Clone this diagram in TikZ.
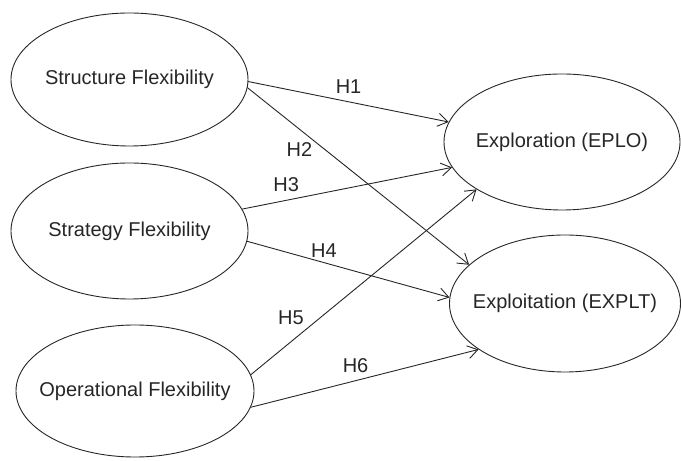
\documentclass[tikz,border=0pt]{standalone}
\usepackage{fontspec}
\setmainfont{Liberation Sans}
\usetikzlibrary{shapes.geometric,arrows.meta}
\definecolor{ink}{gray}{0.15}
\begin{document}
\begin{tikzpicture}[x=1bp,y=1bp,>={Straight Barb[length=10bp,width=13bp]}, line join=round, line cap=round,
    construct/.style={draw=ink, ellipse, inner sep=0pt, line width=0.9bp},
    hyp/.style={->, draw=ink, line width=0.9bp},
    hlabel/.style={text=ink, inner sep=3bp, font=\fontsize{20bp}{24bp}\selectfont}]
    \useasboundingbox (0,0) rectangle (681,461);
    % flexibility constructs
    \node[construct, minimum width=237bp, minimum height=133bp, label={[hlabel]center:Structure Flexibility}] (struct) at (129.5,381.5) {};
    \node[construct, minimum width=237bp, minimum height=136bp, label={[hlabel]center:Strategy Flexibility}] (strat) at (129.5,230) {};
    \node[construct, minimum width=238bp, minimum height=132bp, label={[hlabel]center:Operational Flexibility}] (oper) at (135,70) {};
    % ambidexterity constructs
    \node[construct, minimum width=236bp, minimum height=136bp, label={[hlabel]center:Exploration (EPLO)}] (explor) at (562,319) {};
    \node[construct, minimum width=231bp, minimum height=137bp, label={[hlabel]center:Exploitation (EXPLT)}] (exploit) at (565,157.5) {};
    % hypotheses
    \draw[hyp] (struct.-1) -- (explor.170) node[hlabel, pos=0.5, above=5bp]{H1};
    \draw[hyp] (struct.-4) -- (exploit.158) node[hlabel, pos=0.234, below=10bp]{H2};
    \draw[hyp] (strat.11) -- (explor.193) node[hlabel, pos=0.21, above=5bp]{H3};
    \draw[hyp] (strat.-5) -- (exploit.177) node[hlabel, pos=0.38, above=2bp]{H4};
    \draw[hyp] (oper.8) -- (explor.209.6) node[hlabel, pos=0.25, above left]{H5};
    \draw[hyp] (oper.-8) -- (exploit.208) node[hlabel, pos=0.46, above=5bp]{H6};
\end{tikzpicture}
\end{document}
